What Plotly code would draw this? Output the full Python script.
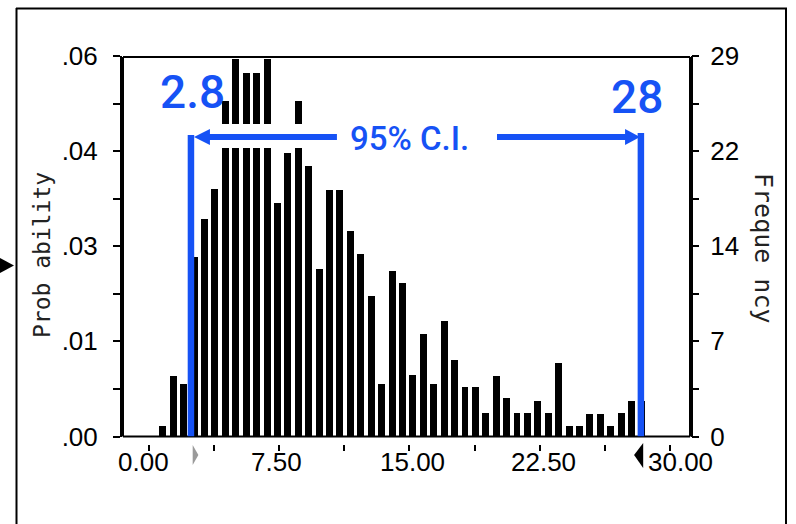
import plotly.graph_objects as go

# ---------------- data ----------------
bin_centers = [0.83, 1.43, 2.03, 2.63, 3.22, 3.82, 4.42, 5.02, 5.62, 6.22,
               6.82, 7.41, 8.01, 8.61, 9.21, 9.81, 10.41, 11.00, 11.60, 12.20,
               12.80, 13.40, 14.00, 14.60, 15.19, 15.79, 16.39, 16.99, 17.59, 18.19,
               18.79, 19.38, 19.98, 20.58, 21.18, 21.78, 22.38, 22.97, 23.57, 24.17,
               24.77, 25.37, 25.97, 26.57, 27.16, 27.76, 28.36]
frequency = [0.8, 4.6, 4.0, 13.7, 16.6, 18.9, 25.6, 28.8, 27.7, 27.7,
             28.8, 17.8, 21.6, 25.6, 20.6, 12.8, 18.75, 18.75, 15.7, 13.9,
             10.7, 4.0, 12.65, 11.7, 4.7, 7.8, 4.0, 8.8, 5.8, 3.8,
             3.8, 1.8, 4.6, 2.9, 1.8, 1.8, 2.7, 1.8, 5.6, 0.8,
             0.8, 1.7, 1.7, 0.8, 1.8, 2.7, 2.7]

freq_ticks = [0, 3.625, 7.25, 10.875, 14.5, 18.125, 21.75, 25.375, 29]
prob_labels = [".00", "", ".01", "", ".03", "", ".04", "", ".06"]
freq_labels = ["0", "", "7", "", "14", "", "22", "", "29"]
x_ticks = [0, 3.75, 7.5, 11.25, 15, 18.75, 22.5, 26.25, 30]
x_labels = ["0.00", "7.50", "15.00", "22.50", "30.00"]
x_label_pos = [-0.26, 7.33, 15.2, 22.73, 30.55]   # where the labels sit in the picture

ci_text = ["2.8", "28"]
ci_line_x = [2.44, 28.3]          # where the blue C.I. lines are drawn
grabber_x = [2.67, 28.07]

BLUE = "#1652f5"

# ---------------- layout geometry ----------------
W, H = 796, 524
L, R, T, B = 122, 105, 56, 44
PW, PH = W - L - R, H - T - B


def fx(px):
    return (px - L) / PW


def fy(py):
    return (H - B - py) / PH


ydom0 = fy(436.5)

fig = go.Figure()
fig.add_trace(go.Bar(x=bin_centers, y=frequency, width=0.40,
                     marker=dict(color="black", line=dict(width=0)),
                     showlegend=False, hoverinfo="skip"))
fig.add_trace(go.Scatter(x=[None], y=[None], yaxis="y2", showlegend=False,
                         hoverinfo="skip"))

shapes = []
# white band behind the C.I. arrow
shapes.append(dict(type="rect", xref="x", yref="y", x0=ci_line_x[0], x1=ci_line_x[1],
                   y0=21.99, y1=23.82, fillcolor="white", line=dict(width=0)))


def pline(x0, y0, x1, y1, w=2, color="black"):
    return dict(type="line", xref="paper", yref="paper", x0=x0, x1=x1, y0=y0, y1=y1,
                line=dict(color=color, width=w))


# plot frame (four lines, drawn slightly inside the plot edges)
fl, fr, ft = fx(123), fx(690), fy(57)
shapes += [pline(fl, ft, fr, ft), pline(fl, ydom0, fr, ydom0),
           pline(fl, ydom0, fl, ft), pline(fr, ydom0, fr, ft)]
# blue vertical lines
shapes.append(dict(type="line", xref="x", yref="y", x0=ci_line_x[0], x1=ci_line_x[0],
                   y0=0, y1=22.98, line=dict(color=BLUE, width=6.5)))
shapes.append(dict(type="line", xref="x", yref="y", x0=ci_line_x[1], x1=ci_line_x[1],
                   y0=0, y1=23.13, line=dict(color=BLUE, width=6.5)))
# horizontal arrow segments
yl = 22.83
shapes.append(dict(type="line", xref="x", yref="y", x0=3.3, x1=10.83, y0=yl, y1=yl,
                   line=dict(color=BLUE, width=6)))
shapes.append(dict(type="line", xref="x", yref="y", x0=20.03, x1=27.6, y0=yl, y1=yl,
                   line=dict(color=BLUE, width=6)))
# arrow heads
shapes.append(dict(type="path", xref="x", yref="y",
                   path=f"M 2.615 {yl} L 3.53 {yl+0.61} L 3.53 {yl-0.61} Z",
                   fillcolor=BLUE, line=dict(width=0)))
shapes.append(dict(type="path", xref="x", yref="y",
                   path=f"M 28.25 {yl} L 27.39 {yl+0.61} L 27.39 {yl-0.61} Z",
                   fillcolor=BLUE, line=dict(width=0)))
# outer frame lines
shapes.append(pline(fx(16.5), fy(8), fx(16.5), fy(530)))
shapes.append(pline(fx(16), fy(8.5), fx(787), fy(8.5)))
shapes.append(pline(fx(786), fy(8), fx(786), fy(530)))
# left edge marker
shapes.append(dict(type="path", xref="paper", yref="paper",
                   path=f"M {fx(0)} {fy(258)} L {fx(14)} {fy(265.5)} L {fx(0)} {fy(273)} Z",
                   fillcolor="black", line=dict(width=0)))


# certainty grabbers below the x axis
def gx(v):
    return fx(148.5 + v * 17.4)


shapes.append(dict(type="path", xref="paper", yref="paper",
                   path=f"M {gx(grabber_x[0]) - 0.004} {fy(445)} L {gx(grabber_x[0]) + 0.006} {fy(455)} "
                        f"L {gx(grabber_x[0]) - 0.004} {fy(465)} Z",
                   fillcolor="#9a9a9a", line=dict(width=0)))
shapes.append(dict(type="path", xref="paper", yref="paper",
                   path=f"M {gx(grabber_x[1]) + 0.011} {fy(443)} L {gx(grabber_x[1]) + 0.011} {fy(468)} "
                        f"L {gx(grabber_x[1]) - 0.005} {fy(455)} Z",
                   fillcolor="black", line=dict(width=0)))

tick_font = dict(family="Liberation Sans, Arial, sans-serif", size=26, color="black")
ann_font = dict(family="Roboto, Arial, sans-serif", size=46, color=BLUE, weight=500)
annotations = [
    dict(x=2.5, y=26.26, xref="x", yref="y", text=ci_text[0], showarrow=False,
         font=ann_font, xanchor="center", yanchor="middle"),
    dict(x=28.1, y=25.84, xref="x", yref="y", text=ci_text[1], showarrow=False,
         font=ann_font, xanchor="center", yanchor="middle"),
    dict(x=15.0, y=22.68, xref="x", yref="y", text="95% C.I.", showarrow=False,
         font=dict(family="Roboto, Arial, sans-serif", size=33, color=BLUE, weight=500),
         xanchor="center", yanchor="middle"),
    dict(x=fx(42), y=fy(255), xref="paper", yref="paper", text="Prob ability",
         showarrow=False, textangle=-90,
         font=dict(family="DejaVu Sans Mono, monospace", size=23, color="#222"),
         xanchor="center", yanchor="middle"),
    dict(x=fx(764), y=fy(248), xref="paper", yref="paper", text="Freque ncy",
         showarrow=False, textangle=90,
         font=dict(family="DejaVu Sans Mono, monospace", size=25, color="#222"),
         xanchor="center", yanchor="middle"),
]
for pos, lab in zip(x_label_pos, x_labels):
    annotations.append(dict(x=pos, y=fy(462), xref="x", yref="paper", text=lab,
                            showarrow=False, font=tick_font,
                            xanchor="center", yanchor="middle"))

fig.update_layout(
    width=W, height=H,
    margin=dict(l=L, r=R, t=T, b=B, pad=0, autoexpand=False),
    plot_bgcolor="white", paper_bgcolor="white",
    bargap=0,
    shapes=shapes,
    annotations=annotations,
    xaxis=dict(range=[-1.523, 31.18], anchor="free", position=fy(444),
               showline=False, showgrid=False, zeroline=False, automargin=False,
               ticks="outside", ticklen=6, tickwidth=2, tickcolor="black",
               tickmode="array", tickvals=x_ticks, showticklabels=False),
    yaxis=dict(range=[0, 29], domain=[ydom0, 1], showline=True, linewidth=2,
               linecolor="black", mirror=True, showgrid=False,
               zeroline=False, automargin=False,
               ticks="outside", ticklen=7, tickwidth=2, tickcolor="black",
               tickmode="array", tickvals=freq_ticks, ticktext=prob_labels,
               tickfont=tick_font, ticklabelstandoff=10),
    yaxis2=dict(range=[0, 29], overlaying="y", side="right", anchor="x",
                showline=False, showgrid=False, zeroline=False, automargin=False,
                ticks="outside", ticklen=7, tickwidth=2, tickcolor="black",
                tickmode="array", tickvals=freq_ticks, ticktext=freq_labels,
                tickfont=tick_font, ticklabelstandoff=6),
)

fig.write_html("out.html", config={"displayModeBar": False},
               post_script="document.body.style.margin='0px';document.body.style.overflow='hidden';")
